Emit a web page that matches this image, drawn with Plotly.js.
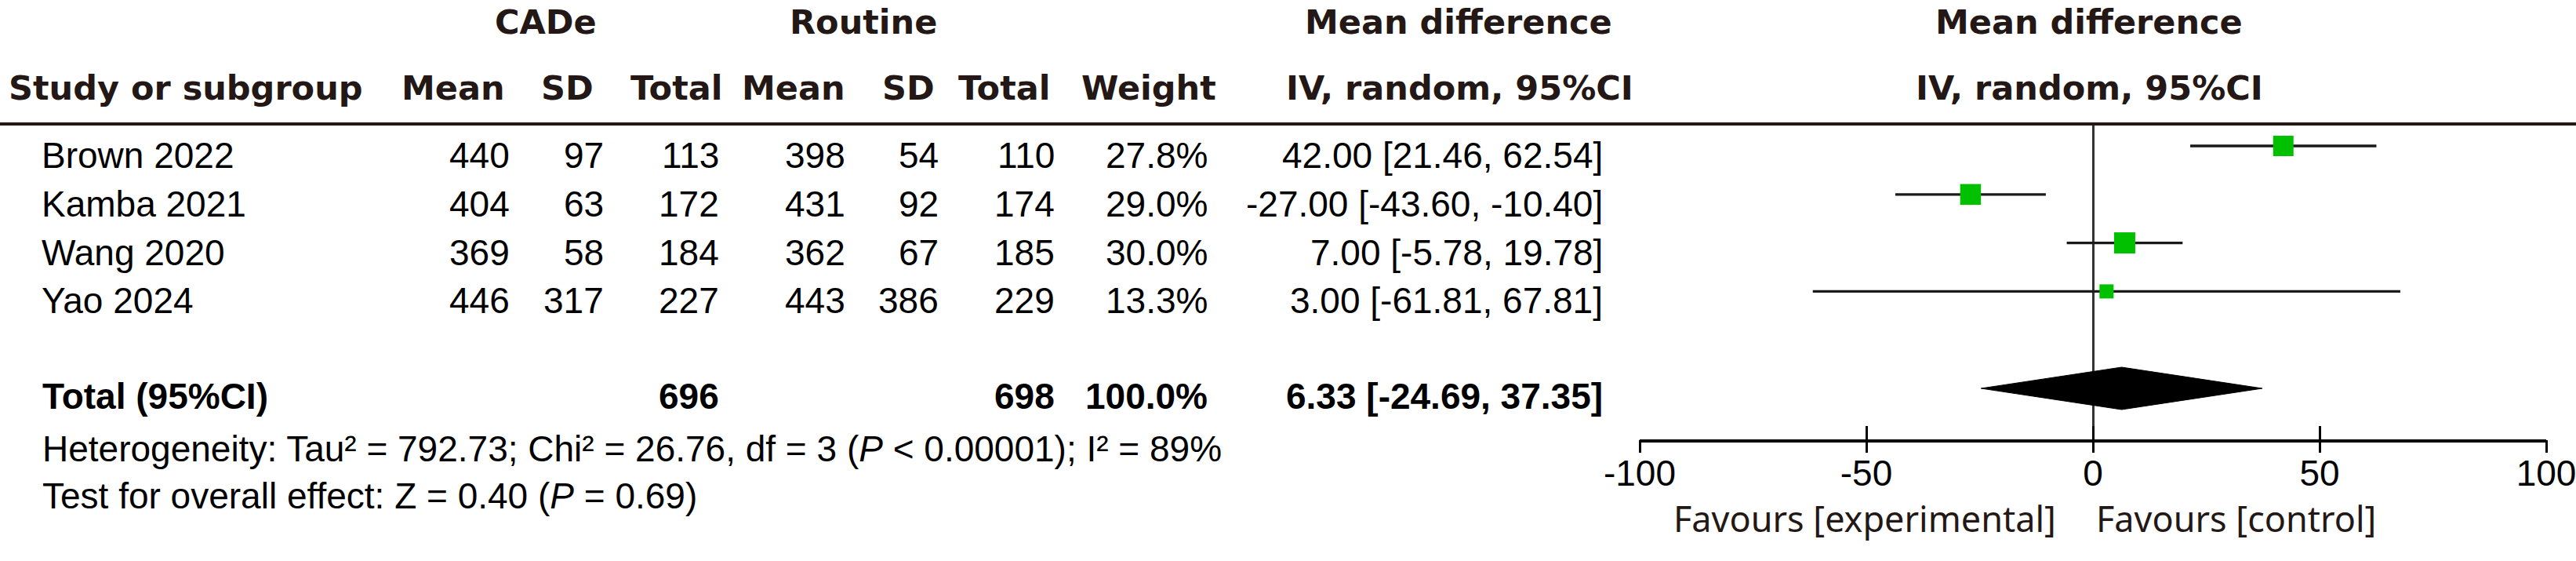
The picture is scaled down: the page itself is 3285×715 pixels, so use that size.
<!DOCTYPE html>
<html>
<head>
<meta charset="utf-8">
<script src="https://cdn.plot.ly/plotly-3.0.1.min.js"></script>
<style>
  html, body { margin: 0; padding: 0; background: #ffffff; overflow: hidden; }
  #chart { width: 3285px; height: 715px; }
</style>
</head>
<body>
<div id="chart"></div>
<script>
// ---------------- data ----------------
const studies    = ['Brown 2022', 'Kamba 2021', 'Wang 2020', 'Yao 2024'];
const cadeMean   = [440, 404, 369, 446];
const cadeSD     = [97, 63, 58, 317];
const cadeTotal  = [113, 172, 184, 227];
const routMean   = [398, 431, 362, 443];
const routSD     = [54, 92, 67, 386];
const routTotal  = [110, 174, 185, 229];
const weights    = [27.8, 29.0, 30.0, 13.3];
const meanDiff   = [42.00, -27.00, 7.00, 3.00];
const ciLow      = [21.46, -43.60, -5.78, -61.81];
const ciHigh     = [62.54, -10.40, 19.78, 67.81];

const totalLabel   = 'Total (95%CI)';
const totalCade    = 696;
const totalRout    = 698;
const totalWeight  = 100.0;
const totalMD      = 6.33;
const totalLow     = -24.69;
const totalHigh    = 37.35;

const tickVals   = [-100, -50, 0, 50, 100];
const tickText   = ['-100', '-50', '0', '50', '100'];

const heterogeneityText = 'Heterogeneity: Tau² = 792.73; Chi² = 26.76, df = 3 (<i>P</i> &lt; 0.00001); I² = 89%';
const overallText       = 'Test for overall effect: Z = 0.40 (<i>P</i> = 0.69)';
const favoursLeft  = 'Favours [experimental]';
const favoursRight = 'Favours [control]';

const header1 = ['CADe', 'Routine', 'Mean difference', 'Mean difference'];
const header2 = ['Study or subgroup', 'Mean', 'SD', 'Total', 'Mean', 'SD', 'Total', 'Weight',
                 'IV, random, 95%CI', 'IV, random, 95%CI'];

// ---------------- layout helpers ----------------
const W = 3285, H = 715;
const px = v => v / W;
const py = v => 1 - v / H;

const ARIAL = 'Liberation Sans, Arial, sans-serif';
const HEAD  = 'DejaVu Sans, Verdana, sans-serif';
const FAV   = 'Noto Sans, sans-serif';
const INK   = '#231815';

// plot geometry (pixels)
const axLeft = 2091, axRight = 3247;
const plotTop = 158, plotBottom = 560;
const row0 = 186, rowStep = 61.8;
const yTop = -(row0 - plotTop) / rowStep;
const yBottom = (plotBottom - row0) / rowStep;
const totalRow = 5;

const fmt2 = v => v.toFixed(2);
const ciText = (m, l, h) => fmt2(m) + ' [' + fmt2(l) + ', ' + fmt2(h) + ']';

const annotations = [];
function addAnn(text, x, xanchor, y, yref, yshift, font) {
  annotations.push({
    text: text, x: x, xref: 'paper', xanchor: xanchor,
    y: y, yref: yref, yanchor: 'middle', yshift: yshift || 0,
    showarrow: false, borderpad: 0, font: font
  });
}

// headers
const headFont = { family: HEAD, size: 43, color: INK, weight: 'bold' };
const h1x = [696, 1101, 1860, 2664];
header1.forEach((t, i) => addAnn(t, px(h1x[i]), 'center', py(28), 'paper', 0, headFont));
addAnn(header2[0], px(10), 'left', py(112), 'paper', 0, headFont);
const h2x = [578, 723, 862, 1012, 1158, 1280, 1465, 1861, 2664];
header2.slice(1).forEach((t, i) => addAnn(t, px(h2x[i]), 'center', py(112), 'paper', 0, headFont));

// study rows
const bodyFont = { family: ARIAL, size: 46, color: '#000000' };
const colRight = { cm: 651, cs: 771, ct: 918, rm: 1079, rs: 1198, rt: 1346, w: 1541, ci: 2045 };
const rowShift = -12;
studies.forEach((s, i) => {
  addAnn(s, px(52), 'left', i, 'y', rowShift, bodyFont);
  addAnn(String(cadeMean[i]), px(colRight.cm), 'right', i, 'y', rowShift, bodyFont);
  addAnn(String(cadeSD[i]), px(colRight.cs), 'right', i, 'y', rowShift, bodyFont);
  addAnn(String(cadeTotal[i]), px(colRight.ct), 'right', i, 'y', rowShift, bodyFont);
  addAnn(String(routMean[i]), px(colRight.rm), 'right', i, 'y', rowShift, bodyFont);
  addAnn(String(routSD[i]), px(colRight.rs), 'right', i, 'y', rowShift, bodyFont);
  addAnn(String(routTotal[i]), px(colRight.rt), 'right', i, 'y', rowShift, bodyFont);
  addAnn(weights[i].toFixed(1) + '%', px(colRight.w), 'right', i, 'y', rowShift, bodyFont);
  addAnn(ciText(meanDiff[i], ciLow[i], ciHigh[i]), px(colRight.ci), 'right', i, 'y', rowShift, bodyFont);
});

// total row
const boldFont = { family: ARIAL, size: 46, color: '#000000', weight: 'bold' };
const totShift = -10;
addAnn(totalLabel, px(53), 'left', totalRow, 'y', totShift, boldFont);
addAnn(String(totalCade), px(colRight.ct), 'right', totalRow, 'y', totShift, boldFont);
addAnn(String(totalRout), px(colRight.rt), 'right', totalRow, 'y', totShift, boldFont);
addAnn(totalWeight.toFixed(1) + '%', px(colRight.w), 'right', totalRow, 'y', totShift, boldFont);
addAnn(ciText(totalMD, totalLow, totalHigh), px(colRight.ci), 'right', totalRow, 'y', totShift, boldFont);

// footer
addAnn(heterogeneityText, px(53), 'left', py(572), 'paper', 0, bodyFont);
addAnn(overallText, px(53), 'left', py(632), 'paper', 0, bodyFont);

// favours labels (anchored to the zero of the effect axis)
const favFont = { family: FAV, size: 45, color: INK };
annotations.push({ text: favoursLeft, x: 0, xref: 'x', xanchor: 'right', xshift: -46,
  y: py(660), yref: 'paper', yanchor: 'middle', showarrow: false, borderpad: 0, font: favFont });
annotations.push({ text: favoursRight, x: 0, xref: 'x', xanchor: 'left', xshift: 3,
  y: py(660), yref: 'paper', yanchor: 'middle', showarrow: false, borderpad: 0, font: favFont });

// ---------------- traces ----------------
const sizeScale = 27 / Math.sqrt(30);
const studyTrace = {
  type: 'scatter', mode: 'markers',
  x: meanDiff, y: studies.map((_, i) => i),
  xaxis: 'x', yaxis: 'y',
  marker: { symbol: 'square', color: '#00C000', opacity: 1,
            size: weights.map(w => sizeScale * Math.sqrt(w)), line: { width: 0 } },
  error_x: {
    type: 'data', symmetric: false,
    array: ciHigh.map((h, i) => h - meanDiff[i]),
    arrayminus: ciLow.map((l, i) => meanDiff[i] - l),
    width: 0, thickness: 3.3, color: '#1a1a1a'
  },
  hoverinfo: 'skip', cliponaxis: false
};

const halfH = 27 / rowStep;
const diamondTrace = {
  type: 'scatter', mode: 'lines',
  x: [totalLow, totalMD, totalHigh, totalMD, totalLow],
  y: [totalRow, totalRow - halfH, totalRow, totalRow + halfH, totalRow],
  xaxis: 'x', yaxis: 'y',
  fill: 'toself', fillcolor: '#000000',
  line: { color: '#000000', width: 1 },
  hoverinfo: 'skip'
};

// ---------------- layout ----------------
const layout = {
  width: W, height: H,
  margin: { l: 0, r: 0, t: 0, b: 0, pad: 0 },
  paper_bgcolor: '#ffffff', plot_bgcolor: 'rgba(0,0,0,0)',
  showlegend: false,
  xaxis: {
    domain: [px(axLeft), px(axRight)], range: [-100, 100],
    tickmode: 'array', tickvals: tickVals, ticktext: tickText,
    ticks: 'inside', ticklen: 17, tickwidth: 3, tickcolor: '#000000',
    showline: true, linewidth: 4, linecolor: '#000000',
    zeroline: true, zerolinecolor: '#333333', zerolinewidth: 3,
    showgrid: false, fixedrange: true,
    tickfont: { family: ARIAL, size: 46, color: '#000000' },
    ticklabeloverflow: 'allow',
    ticklabelstandoff: 0
  },
  xaxis3: {
    overlaying: 'x', anchor: 'y', range: [-100, 100],
    tickmode: 'array', tickvals: tickVals,
    ticks: 'outside', ticklen: 16, tickwidth: 3, tickcolor: '#000000',
    showticklabels: false, showline: false, zeroline: false, showgrid: false, fixedrange: true
  },
  yaxis: {
    domain: [py(plotBottom), py(plotTop)], range: [yBottom, yTop],
    showgrid: false, zeroline: false, showline: false, showticklabels: false, ticks: '',
    fixedrange: true
  },
  shapes: [
    { type: 'line', xref: 'paper', yref: 'paper', x0: 0, x1: 1, y0: py(plotTop), y1: py(plotTop),
      line: { color: INK, width: 4 } }
  ],
  annotations: annotations
};

// invisible point that activates the overlaid tick axis
const tickTrace = { type: 'scatter', mode: 'markers', x: [0], y: [0], xaxis: 'x3', yaxis: 'y',
  marker: { opacity: 0, size: 1 }, hoverinfo: 'skip' };

Plotly.newPlot('chart', [diamondTrace, studyTrace, tickTrace], layout, { staticPlot: true, displayModeBar: false });
</script>
</body>
</html>
